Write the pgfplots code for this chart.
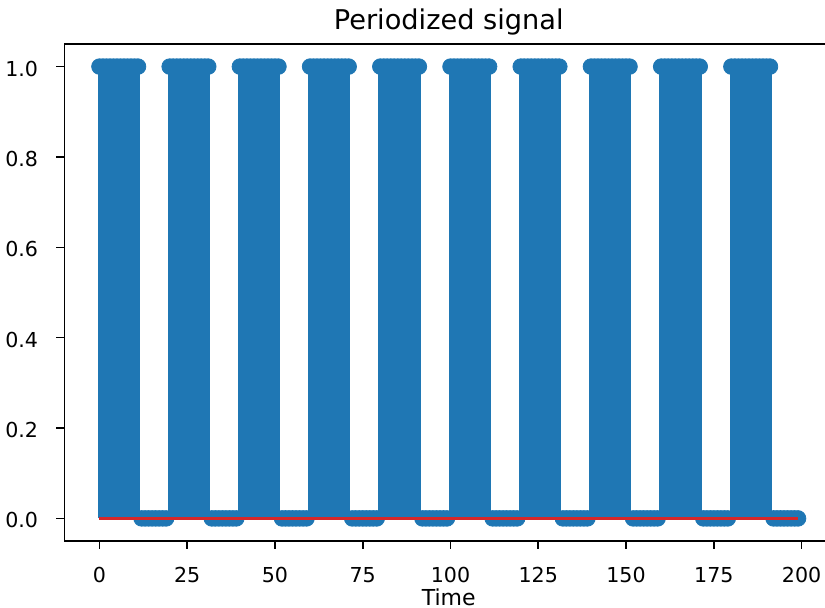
\documentclass[border=0pt]{standalone}
\usepackage{fontspec}
\setmainfont{DejaVu Sans}
\usepackage{pgfplots}
\usepackage{pgfplotstable}
\pgfplotsset{compat=1.18}
\definecolor{c0}{HTML}{1F77B4}
\definecolor{c3}{HTML}{D62728}
\pgfplotstableread[row sep=\\]{
x y\\
0 1\\1 1\\2 1\\3 1\\4 1\\5 1\\6 1\\7 1\\8 1\\9 1\\10 1\\11 1\\12 0\\13 0\\14 0\\15 0\\16 0\\17 0\\18 0\\19 0\\
20 1\\21 1\\22 1\\23 1\\24 1\\25 1\\26 1\\27 1\\28 1\\29 1\\30 1\\31 1\\32 0\\33 0\\34 0\\35 0\\36 0\\37 0\\38 0\\39 0\\
40 1\\41 1\\42 1\\43 1\\44 1\\45 1\\46 1\\47 1\\48 1\\49 1\\50 1\\51 1\\52 0\\53 0\\54 0\\55 0\\56 0\\57 0\\58 0\\59 0\\
60 1\\61 1\\62 1\\63 1\\64 1\\65 1\\66 1\\67 1\\68 1\\69 1\\70 1\\71 1\\72 0\\73 0\\74 0\\75 0\\76 0\\77 0\\78 0\\79 0\\
80 1\\81 1\\82 1\\83 1\\84 1\\85 1\\86 1\\87 1\\88 1\\89 1\\90 1\\91 1\\92 0\\93 0\\94 0\\95 0\\96 0\\97 0\\98 0\\99 0\\
100 1\\101 1\\102 1\\103 1\\104 1\\105 1\\106 1\\107 1\\108 1\\109 1\\110 1\\111 1\\112 0\\113 0\\114 0\\115 0\\116 0\\117 0\\118 0\\119 0\\
120 1\\121 1\\122 1\\123 1\\124 1\\125 1\\126 1\\127 1\\128 1\\129 1\\130 1\\131 1\\132 0\\133 0\\134 0\\135 0\\136 0\\137 0\\138 0\\139 0\\
140 1\\141 1\\142 1\\143 1\\144 1\\145 1\\146 1\\147 1\\148 1\\149 1\\150 1\\151 1\\152 0\\153 0\\154 0\\155 0\\156 0\\157 0\\158 0\\159 0\\
160 1\\161 1\\162 1\\163 1\\164 1\\165 1\\166 1\\167 1\\168 1\\169 1\\170 1\\171 1\\172 0\\173 0\\174 0\\175 0\\176 0\\177 0\\178 0\\179 0\\
180 1\\181 1\\182 1\\183 1\\184 1\\185 1\\186 1\\187 1\\188 1\\189 1\\190 1\\191 1\\192 0\\193 0\\194 0\\195 0\\196 0\\197 0\\198 0\\199 0\\
}\sig
\pgfplotstableread[row sep=\\]{
x y\\
0 0\\
199 0\\
}\base
\begin{document}
\begin{tikzpicture}
\begin{axis}[
  at={(0,0)}, anchor=south west,
  width=384.25pt, height=248.5pt, scale only axis,
  xmin=-9.95, xmax=208.95, ymin=-0.05, ymax=1.05,
  xtick={0,25,50,75,100,125,150,175,200},
  ytick={0,0.2,0.4,0.6,0.8,1.0},
  /pgf/number format/assume math mode=true,
  yticklabel style={/pgf/number format/fixed, /pgf/number format/fixed zerofill, /pgf/number format/precision=1},
  xtick pos=bottom, ytick pos=left,
  tick align=outside, major tick length=4pt,
  tick style={black, line width=0.8pt},
  axis line style={black, line width=0.9pt},
  ticklabel style={font=\fontsize{10.3}{12}\selectfont, inner sep=0pt},
  xticklabel style={anchor=base, yshift=-17pt},
  yticklabel style={anchor=base east, xshift=-9pt, yshift=-4.75pt},
  every axis title shift=0pt,
  title={Periodized signal},
  title style={font=\fontsize{13.6}{16}\selectfont, at={(0.5,1)}, anchor=base, yshift=7.25pt, inner sep=0pt},
  xlabel={Time},
  xlabel style={font=\fontsize{11}{13}\selectfont, at={(axis description cs:0.5,0)}, anchor=base, yshift=-32.3pt, inner sep=0pt},
  clip marker paths=true,
]
\addplot[ycomb, c0, line width=1.8pt, no markers] table[x=x, y=y] {\sig};
\addplot[only marks, mark=*, mark size=3.9pt, color=c0, mark options={fill=c0, draw=c0}] table[x=x, y=y] {\sig};
\addplot[c3, line width=1.8pt, no markers] table[x=x, y=y] {\base};
\end{axis}
\pgfresetboundingbox
\useasboundingbox (-32.25pt,-33.5pt) rectangle (380.25pt,270.5pt);
\end{tikzpicture}
\end{document}
